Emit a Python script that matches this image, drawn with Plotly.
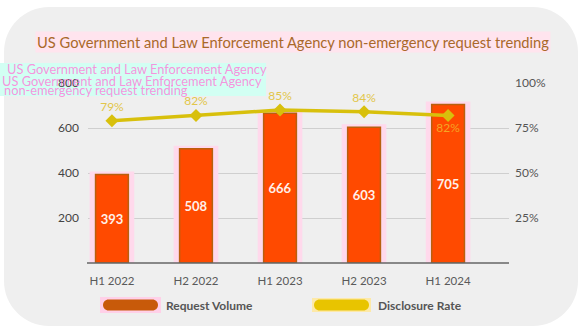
import plotly.graph_objects as go

# Data
periods = ["H1 2022", "H2 2022", "H1 2023", "H2 2023", "H1 2024"]
request_volume = [393, 508, 666, 603, 705]
disclosure_rate = [0.79, 0.82, 0.85, 0.84, 0.82]
left_ticks = [200, 400, 600, 800]
right_ticks = [0.25, 0.50, 0.75, 1.00]

TITLE = "US Government and Law Enforcement Agency non-emergency request trending"
FONT = "Lato"

W, H = 582, 335
L, R, T, B = 88, 509, 83, 263  # plot area in pixels


def fx(x):
    return (x - L) / (R - L)


def fy(y):
    return (B - y) / (B - T)


def rounded_rect(x0, y0, x1, y1, r):
    k = 0.5523 * r
    pts = [
        f"M{fx(x0 + r)},{fy(y0)}",
        f"L{fx(x1 - r)},{fy(y0)}",
        f"C{fx(x1 - r + k)},{fy(y0)} {fx(x1)},{fy(y0 + r - k)} {fx(x1)},{fy(y0 + r)}",
        f"L{fx(x1)},{fy(y1 - r)}",
        f"C{fx(x1)},{fy(y1 - r + k)} {fx(x1 - r + k)},{fy(y1)} {fx(x1 - r)},{fy(y1)}",
        f"L{fx(x0 + r)},{fy(y1)}",
        f"C{fx(x0 + r - k)},{fy(y1)} {fx(x0)},{fy(y1 - r + k)} {fx(x0)},{fy(y1 - r)}",
        f"L{fx(x0)},{fy(y0 + r)}",
        f"C{fx(x0)},{fy(y0 + r - k)} {fx(x0 + r - k)},{fy(y0)} {fx(x0 + r)},{fy(y0)}",
        "Z",
    ]
    return " ".join(pts)


fig = go.Figure()

# soft pink halo behind each bar
fig.add_trace(go.Bar(
    x=periods, y=request_volume, width=0.46,
    marker=dict(color="#ffd9ec", line=dict(color="#ffd9ec", width=6)),
    hoverinfo="skip", showlegend=False,
))
# request volume bars
fig.add_trace(go.Bar(
    x=periods, y=request_volume, width=0.39, name="Request Volume",
    marker=dict(color="#ff4a00", line=dict(color="#b8600f", width=1.5)),
    texttemplate="%{y}", textposition="inside", insidetextanchor="middle",
    textfont=dict(color="#fff0ea", size=13, family=FONT, weight="bold"),
    showlegend=False,
))
# disclosure rate line
fig.add_trace(go.Scatter(
    x=periods, y=disclosure_rate, yaxis="y2", name="Disclosure Rate",
    mode="lines+markers+text",
    line=dict(color="#d8c00c", width=3.5),
    marker=dict(symbol="diamond", size=10, color="#d8c00c"),
    texttemplate="%{y:.0%}",
    textposition=["top center"] * 4 + ["bottom center"],
    textfont=dict(color=["#e2c64a"] * 4 + ["#f5a524"], size=12, family=FONT),
    cliponaxis=False, showlegend=False,
))

shapes = [
    # rounded panel
    dict(type="path", xref="paper", yref="paper", layer="below",
         path=rounded_rect(4, 7, 578, 326, 45),
         fillcolor="#efefef", line=dict(width=0)),
    # glitch text backdrop
    dict(type="rect", xref="paper", yref="paper", layer="below",
         x0=fx(0), x1=fx(266), y0=fy(63), y1=fy(96),
         fillcolor="#d2fff3", line=dict(width=0)),
    # baseline
    dict(type="line", xref="paper", yref="paper", x0=fx(87), x1=fx(509),
         y0=0, y1=0, line=dict(color="#666666", width=1.3)),
    # legend swatches
    dict(type="rect", xref="paper", yref="paper", x0=fx(100), x1=fx(161), y0=fy(297), y1=fy(313),
         fillcolor="#ffd0e8", line=dict(width=0)),
    dict(type="path", xref="paper", yref="paper",
         path=rounded_rect(103, 299.5, 158, 310.5, 5.5), fillcolor="#c85a0a", line=dict(width=0)),
    dict(type="rect", xref="paper", yref="paper", x0=fx(312), x1=fx(371), y0=fy(298), y1=fy(312),
         fillcolor="#fde9a8", line=dict(width=0)),
    dict(type="path", xref="paper", yref="paper",
         path=rounded_rect(314, 299.5, 369, 310.5, 5.5), fillcolor="#e8c400", line=dict(width=0)),
]

annotations = [
    dict(text=TITLE, xref="paper", yref="paper", x=fx(293), y=fy(42),
         xanchor="center", yanchor="middle", showarrow=False,
         font=dict(family=FONT, size=14.7, color="#a9692a"), bgcolor="#ffe4ee", borderpad=1),
    dict(text="Request Volume", xref="paper", yref="paper", x=fx(164), y=fy(305),
         xanchor="left", yanchor="middle", showarrow=False,
         font=dict(family=FONT, size=12, color="#555555", weight="bold")),
    dict(text="Disclosure Rate", xref="paper", yref="paper", x=fx(376), y=fy(305),
         xanchor="left", yanchor="middle", showarrow=False,
         font=dict(family=FONT, size=12, color="#555555", weight="bold")),
]
# overlapping echo of the title in the top-left corner
for txt, x, y in [("US Government and Law Enforcement Agency", 5, 69),
                  ("US Government and Law Enforcement Agency", 0, 81),
                  ("non-emergency request trending", 2, 90)]:
    annotations.append(dict(text=txt, xref="paper", yref="paper", x=fx(x), y=fy(y),
                            xanchor="left", yanchor="middle", showarrow=False,
                            font=dict(family=FONT, size=12.8, color="rgba(255,120,215,0.8)")))

fig.update_layout(
    width=W, height=H,
    margin=dict(l=L, r=W - R, t=T, b=H - B),
    paper_bgcolor="white", plot_bgcolor="rgba(0,0,0,0)",
    barmode="overlay", showlegend=False,
    font=dict(family=FONT, color="#555555"),
    xaxis=dict(type="category", range=[-0.285, 4.725], showgrid=False, showline=False,
               ticks="", ticklabelstandoff=9, tickfont=dict(size=11.5, color="#5a5a5a")),
    yaxis=dict(range=[0, 800], tickvals=left_ticks, showgrid=True, gridcolor="#cfcfcf",
               gridwidth=1, zeroline=False, showline=False, ticks="",
               ticklabelstandoff=8, tickfont=dict(size=12, color="#444444")),
    yaxis2=dict(range=[0, 1], overlaying="y", side="right", tickvals=right_ticks,
                tickformat=".0%", showgrid=False, zeroline=False, showline=False,
                ticks="", ticklabelstandoff=5, tickfont=dict(size=12, color="#555555")),
    shapes=shapes, annotations=annotations,
)

fig.write_html("out.html")
